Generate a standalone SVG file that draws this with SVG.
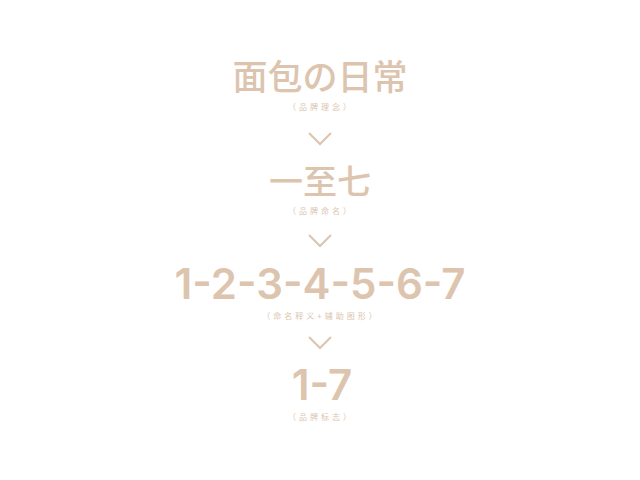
<svg xmlns="http://www.w3.org/2000/svg" width="640" height="480" viewBox="0 0 640 480">
<style>
.t{fill:#dcc4ae;font-family:"Noto Sans CJK SC","Noto Sans",sans-serif;font-weight:500;text-anchor:middle}
.n{fill:#dcc4ae;font-family:"Inter","Noto Sans",sans-serif;font-weight:600;text-anchor:middle}
.s{fill:#dcc4ae;font-family:"Noto Sans CJK SC",sans-serif;font-size:8px;letter-spacing:3px;text-anchor:middle}
.c{fill:none;stroke:#dcc4ae;stroke-width:2}
</style>
<rect width="640" height="480" fill="#fff"/>
<g id="node1"><text class="t" x="320" y="90" font-size="35">面包の日常</text><text class="s" x="321" y="110">（品牌理念）</text></g>
<g id="node2"><text class="t" x="320" y="194" font-size="34">一至七</text><text class="s" x="321" y="214">（品牌命名）</text></g>
<g id="node3"><text class="n" x="320" y="299" font-size="42">1-2-3-4-5-6-7</text><text class="s" x="321" y="319">（命名释义+辅助图形）</text></g>
<g id="node4"><text class="n" x="322" y="400" font-size="42">1-7</text><text class="s" x="321" y="420">（品牌标志）</text></g>
<g id="connectors">
<path class="c" d="M309 133 L320 144 L331 133"/>
<path class="c" d="M309 235 L320 246 L331 235"/>
<path class="c" d="M309 337 L320 348 L331 337"/>
</g>
</svg>
